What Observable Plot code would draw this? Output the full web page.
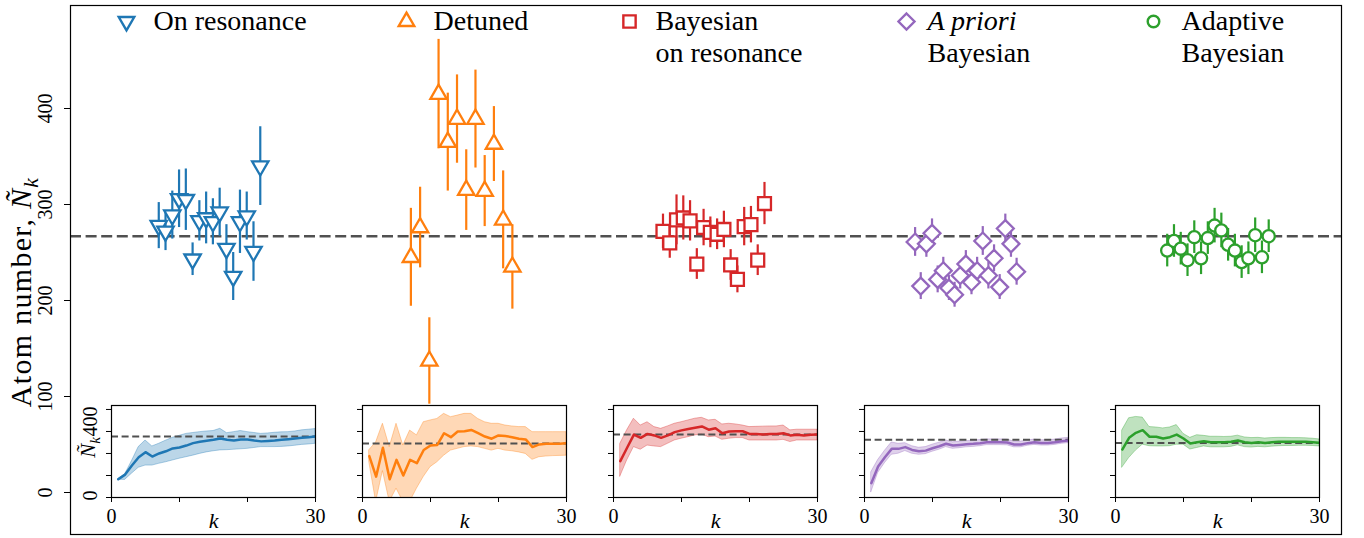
<!DOCTYPE html>
<html>
<head>
<meta charset="utf-8">
<script src="https://cdn.jsdelivr.net/npm/d3@7"></script>
<script src="https://cdn.jsdelivr.net/npm/@observablehq/plot@0.6"></script>
<style>
html,body{margin:0;padding:0;background:#fff;}
#chart{position:relative;width:1364px;height:538px;overflow:hidden;font-family:"Liberation Serif",serif;}
#chart > svg{position:absolute;}
</style>
</head>
<body>
<div id="chart"></div>
<script>
// ================= DATA =================
const seriesNames = ["On resonance", "Detuned", "Bayesian on resonance", "A priori Bayesian", "Adaptive Bayesian"];
const seriesColors = ["#1f77b4", "#ff7f0e", "#d62728", "#9467bd", "#2ca02c"];
const trueAtomNumber = 267;

// main panel: estimated atom numbers and error bars
const onResonanceN   = [278, 272, 289, 306, 305, 243, 283, 286, 282, 292, 254, 225, 282, 288, 251, 340];
const onResonanceErr = [24, 20, 25, 30, 32, 17, 21, 27, 24, 25, 25, 25, 33, 25, 31, 41];
const detunedN   = [245, 276, 137, 415, 365, 389, 315, 389, 314, 363, 284, 235];
const detunedErr = [51, 42, 45, 57, 51, 46, 42, 51, 37, 39, 51, 44];
const bayesOnResN   = [272, 260, 284, 286, 283, 238, 276, 271, 269, 274, 237, 222, 277, 279, 242, 301];
const bayesOnResErr = [18, 16, 26, 23, 21, 16, 19, 16, 16, 19, 16, 14, 20, 19, 16, 22];
const aprioriN   = [261, 215, 259, 270, 222, 231, 213, 206, 226, 238, 219, 231, 262, 226, 244, 214, 275, 259, 230];
const aprioriErr = [15, 14, 14, 15, 14, 14, 13, 13, 14, 14, 13, 14, 15, 14, 14, 13, 15, 14, 14];
const adaptiveN   = [252, 262, 254, 242, 266, 244, 265, 278, 273, 258, 252, 240, 244, 268, 245, 267];
const adaptiveErr = [17, 17, 17, 17, 17, 17, 17, 18, 18, 17, 17, 17, 17, 18, 17, 17];

// insets: running estimate vs k (k = 1..30)
const kValues = [1,2,3,4,5,6,7,8,9,10,11,12,13,14,15,16,17,18,19,20,21,22,23,24,25,26,27,28,29,30];
const onResMean = [83,104,145,183,206,186,200,210,223,227,236,247,253,258,262,268,262,259,264,264,259,255,257,259,262,265,268,271,274,277];
const onResHi   = [85,105,165,229,259,232,244,258,271,280,289,293,297,300,302,312,292,297,302,297,293,289,291,294,296,297,300,305,308,311];
const onResLo   = [81,80,108,135,145,145,153,160,168,176,183,190,198,205,210,214,215,217,219,221,225,229,229,229,230,232,235,239,241,244];
const detunedMean = [188,95,226,83,171,100,171,156,216,236,239,292,274,300,301,307,292,277,267,282,279,274,267,264,229,241,244,244,244,247];
const detunedHi   = [215,250,335,229,335,236,304,282,342,350,357,380,365,372,380,380,357,342,335,335,327,323,320,320,297,297,297,297,297,297];
const detunedLo   = [160,-20,120,-20,40,-20,-20,40,93,138,160,190,213,221,229,232,229,221,213,221,213,210,205,198,171,183,186,188,189,190];
const bayesMean = [165,226,286,271,289,282,271,282,297,305,311,317,323,308,315,292,300,301,301,289,289,286,289,289,292,282,285,282,285,286];
const bayesHi   = [244,305,358,327,342,320,312,323,335,342,350,358,362,350,353,332,335,332,327,320,321,322,323,323,327,305,308,308,308,308];
const bayesLo   = [95,168,229,217,236,232,229,244,259,267,274,282,286,274,277,262,267,270,270,259,259,259,259,259,262,252,259,259,259,259];
const aprioriMean = [65,141,183,221,221,229,216,210,213,224,233,244,236,239,242,244,247,251,251,251,250,241,241,247,251,248,248,251,256,259];
const aprioriHi   = [115,170,212,250,244,247,233,226,229,240,249,259,251,254,256,258,261,264,264,264,263,254,254,259,263,260,260,263,268,271];
const aprioriLo   = [24,111,156,194,199,211,199,194,197,208,217,229,221,224,228,230,233,238,238,238,237,228,228,235,239,236,236,239,244,247];
const adaptiveMean = [218,271,294,306,276,276,268,274,286,268,245,251,256,251,251,251,253,259,251,248,251,248,251,253,253,253,253,253,251,248];
const adaptiveHi   = [305,360,366,363,320,318,314,318,329,289,271,283,280,276,276,275,276,281,273,270,271,268,270,271,271,270,270,269,267,264];
const adaptiveLo   = [136,179,213,240,233,232,232,233,240,240,218,225,232,228,228,228,230,237,229,227,230,228,231,233,234,234,235,235,234,232];
const insetRef = [277, 245, 286, 262, 248];

const mainTicks = [0, 100, 200, 300, 400];
const insetTicksY = [0, 100, 200, 300, 400];
const insetTicksX = [0, 10, 20, 30];
const legendLines = [["On resonance"], ["Detuned"], ["Bayesian", "on resonance"], ["A priori", "Bayesian"], ["Adaptive", "Bayesian"]];

// ================= LAYOUT =================
const W = 1364, H = 538;
const FONT = "Liberation Serif, serif";
const MAIN = {left: 70, right: 23, top: 5, bottom: 4, xDomain: [-0.5514, 4.490], yDomain: [-43.75, 507.3], spread: 0.4026};
const INSET = {lefts: [111, 362, 613, 863.5, 1114.5], top: 405, width: 204, height: 92, ml: 45, mr: 22, mt: 4, mb: 40, yDomain: [0, 418]};
const LEGEND = {markerX: [126, 406, 629, 906, 1153], textX: [153, 433, 655, 927, 1181], lineY: [21, 53], fontSize: 28};
const markerStyle = [
  {symbol: "triangle2", rotate: 180, r: 7.8},
  {symbol: "triangle2", rotate: 0, r: 7.8},
  {symbol: "square", rotate: 0, r: 7.3},
  {symbol: "diamond2", rotate: 0, r: 7.6},
  {symbol: "circle", rotate: 0, r: 6.1}
];

const mainSeries = [
  [onResonanceN, onResonanceErr], [detunedN, detunedErr], [bayesOnResN, bayesOnResErr],
  [aprioriN, aprioriErr], [adaptiveN, adaptiveErr]
];
const insetSeries = [
  [onResMean, onResLo, onResHi], [detunedMean, detunedLo, detunedHi], [bayesMean, bayesLo, bayesHi],
  [aprioriMean, aprioriLo, aprioriHi], [adaptiveMean, adaptiveLo, adaptiveHi]
];

const chart = document.getElementById("chart");

function richLabel(svg) {
  d3.select(svg).selectAll("text").each(function () {
    const t = this.textContent;
    if (!t.includes("Ñ_k")) return;
    const pre = t.replace("Ñ_k", "");
    const sel = d3.select(this);
    sel.text(null);
    if (pre) sel.append("tspan").text(pre);
    sel.append("tspan").attr("font-style", "italic").text("Ñ");
    sel.append("tspan").attr("font-style", "italic").attr("font-size", "0.72em").attr("dy", "0.3em").text("k");
  });
}

// ================= MAIN PANEL =================
const mainMarks = [
  Plot.frame({fill: "white"}),
  Plot.ruleY([trueAtomNumber], {stroke: "#505050", strokeWidth: 2.6, strokeDasharray: "11,4.6"}),
  Plot.axisY({ticks: mainTicks, tickSize: 6, tickFormat: () => "", label: null}),
  Plot.text(mainTicks, {y: d => d, text: d => String(d), frameAnchor: "left", dx: -25, rotate: -90,
    textAnchor: "middle", lineAnchor: "middle", fontSize: 20}),
  Plot.text(["Atom number, Ñ_k"], {frameAnchor: "left", dx: -49, dy: 22, rotate: -90,
    textAnchor: "middle", lineAnchor: "middle", fontSize: 30})
];
mainSeries.forEach(([vals, errs], g) => {
  const n = vals.length;
  const rows = vals.map((v, i) => ({x: g + (i / (n - 1) - 0.5) * MAIN.spread, y: v, lo: v - errs[i], hi: v + errs[i]}));
  mainMarks.push(Plot.ruleX(rows, {x: "x", y1: "lo", y2: "hi", stroke: seriesColors[g], strokeWidth: 2.2}));
  mainMarks.push(Plot.dot(rows, {x: "x", y: "y", symbol: markerStyle[g].symbol, r: markerStyle[g].r,
    rotate: markerStyle[g].rotate, fill: "white", stroke: seriesColors[g], strokeWidth: 2.3}));
});
mainMarks.push(Plot.frame({stroke: "black", strokeWidth: 1.2}));

const mainPlot = Plot.plot({
  width: W, height: H,
  marginLeft: MAIN.left, marginRight: MAIN.right, marginTop: MAIN.top, marginBottom: MAIN.bottom,
  style: {fontFamily: FONT, fontSize: "20px", background: "white", color: "black"},
  x: {domain: MAIN.xDomain, axis: null},
  y: {domain: MAIN.yDomain},
  marks: mainMarks
});
mainPlot.style.left = "0px"; mainPlot.style.top = "0px";
richLabel(mainPlot);
d3.select(mainPlot).selectAll("text").filter(function () { return this.textContent.startsWith("Atom"); })
  .attr("letter-spacing", "1.3px");
chart.appendChild(mainPlot);

// ================= INSETS =================
insetSeries.forEach(([mean, lo, hi], g) => {
  const rows = kValues.map((k, i) => ({k, m: mean[i], lo: lo[i], hi: hi[i]}));
  const c = seriesColors[g];
  const marks = [
    Plot.frame({fill: "white"}),
    Plot.areaY(rows, {x: "k", y1: "lo", y2: "hi", fill: c, fillOpacity: 0.3, stroke: c, strokeOpacity: 0.35, strokeWidth: 1, clip: true}),
    Plot.ruleY([insetRef[g]], {stroke: "#505050", strokeWidth: 2, strokeDasharray: "7,3.6"}),
    Plot.lineY(rows, {x: "k", y: "m", stroke: c, strokeWidth: 2.5, clip: true}),
    Plot.frame({stroke: "black", strokeWidth: 1.2}),
    Plot.axisX({ticks: insetTicksX, tickSize: 5, tickPadding: 6, tickFormat: d => (d === 0 || d === 30) ? String(d) : "", label: null}),
    Plot.axisY({ticks: insetTicksY, tickSize: 5, tickFormat: () => "", label: null}),
    Plot.text(["k"], {frameAnchor: "bottom", dy: 30, fontStyle: "italic", fontSize: 22})
  ];
  if (g === 0) {
    marks.push(Plot.text([400], {y: d => d, text: d => String(d), frameAnchor: "left", dx: -21, dy: 12, rotate: -90, textAnchor: "middle", lineAnchor: "middle"}));
    marks.push(Plot.text([0], {y: d => d, text: d => String(d), frameAnchor: "left", dx: -21, dy: -2, rotate: -90, textAnchor: "middle", lineAnchor: "middle"}));
    marks.push(Plot.text(["Ñ_k"], {frameAnchor: "left", dx: -23, dy: -4, rotate: -90, textAnchor: "middle", lineAnchor: "middle", fontSize: 21}));
  }
  const p = Plot.plot({
    width: INSET.width + INSET.ml + INSET.mr, height: INSET.height + INSET.mt + INSET.mb,
    marginLeft: INSET.ml, marginRight: INSET.mr, marginTop: INSET.mt, marginBottom: INSET.mb,
    style: {fontFamily: FONT, fontSize: "20px", background: "transparent", color: "black", overflow: "visible"},
    x: {domain: [0, 30]},
    y: {domain: INSET.yDomain},
    marks
  });
  p.style.left = (INSET.lefts[g] - INSET.ml) + "px";
  p.style.top = (INSET.top - INSET.mt) + "px";
  richLabel(p);
  chart.appendChild(p);
});

// ================= LEGEND =================
const legendMarks = [];
legendLines.forEach((lines, g) => {
  legendMarks.push(Plot.dot([g], {x: LEGEND.markerX[g], y: LEGEND.lineY[0], symbol: markerStyle[g].symbol,
    r: markerStyle[g].r * 0.95, rotate: markerStyle[g].rotate, fill: "white", stroke: seriesColors[g], strokeWidth: 2.4}));
  lines.forEach((line, j) => {
    legendMarks.push(Plot.text([line], {x: LEGEND.textX[g], y: LEGEND.lineY[j], text: d => d, textAnchor: "start",
      lineAnchor: "middle", fontSize: LEGEND.fontSize, fontStyle: (g === 3 && j === 0) ? "italic" : "normal"}));
  });
});
const legendPlot = Plot.plot({
  width: W, height: 80, margin: 0,
  style: {fontFamily: FONT, background: "transparent", color: "black", overflow: "visible"},
  x: {domain: [0, W], range: [0, W], axis: null},
  y: {domain: [0, 80], range: [0, 80], axis: null},
  marks: legendMarks
});
legendPlot.style.left = "0px"; legendPlot.style.top = "0px";
chart.appendChild(legendPlot);
</script>
</body>
</html>
